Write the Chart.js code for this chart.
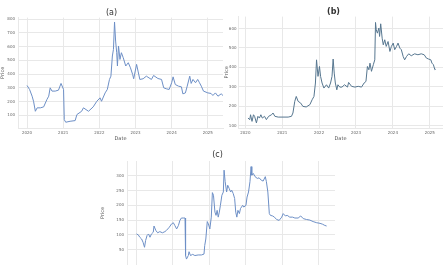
<!DOCTYPE html>
<html>
<head>
<meta charset="utf-8">
<script src="https://cdn.jsdelivr.net/npm/chart.js@4.4.1/dist/chart.umd.min.js"></script>
<style>
  html, body { margin: 0; padding: 0; background: #fff; width: 443px; height: 265px; overflow: hidden; }
  .box { position: absolute; }
</style>
</head>
<body>
<div class="box" style="left:0px;top:0px;width:228px;height:142px"><canvas id="chartA"></canvas></div>
<div class="box" style="left:224px;top:0px;width:219px;height:142px"><canvas id="chartB"></canvas></div>
<div class="box" style="left:100px;top:145px;width:237px;height:131px"><canvas id="chartC"></canvas></div>
<script>
const yearTicks = [2020, 2021, 2022, 2023, 2024, 2025];

const aPriceTicks = [100, 200, 300, 400, 500, 600, 700, 800];
const aYears = [2020.00, 2020.07, 2020.14, 2020.18, 2020.23, 2020.28, 2020.37, 2020.46, 2020.55, 2020.60,
  2020.64, 2020.69, 2020.78, 2020.87, 2020.94, 2021.01, 2021.03, 2021.07, 2021.19, 2021.33,
  2021.38, 2021.51, 2021.56, 2021.70, 2021.83, 2021.93, 2022.02, 2022.06, 2022.16, 2022.22,
  2022.28, 2022.32, 2022.36, 2022.39, 2022.42, 2022.45, 2022.48, 2022.50, 2022.53, 2022.57,
  2022.61, 2022.66, 2022.73, 2022.80, 2022.86, 2022.92, 2022.95, 2023.03, 2023.07, 2023.12,
  2023.21, 2023.30, 2023.44, 2023.50, 2023.62, 2023.72, 2023.78, 2023.85, 2023.93, 2024.00,
  2024.04, 2024.10, 2024.19, 2024.27, 2024.31, 2024.38, 2024.43, 2024.50, 2024.54, 2024.59,
  2024.66, 2024.72, 2024.77, 2024.82, 2024.88, 2025.00, 2025.09, 2025.14, 2025.21, 2025.28,
  2025.37, 2025.46];
const aPrices = [317, 288, 239, 202, 129, 154, 154, 161, 215, 239,
  300, 276, 276, 283, 332, 288, 68, 49, 56, 61,
  105, 129, 154, 129, 161, 202, 227, 202, 263, 288,
  361, 385, 532, 580, 780, 641, 556, 459, 605, 507,
  556, 520, 459, 483, 446, 398, 366, 471, 422, 361,
  366, 385, 361, 390, 368, 361, 300, 293, 288, 337,
  380, 324, 312, 307, 256, 263, 312, 385, 332, 361,
  337, 361, 337, 312, 276, 263, 259, 244, 263, 239,
  256, 234];

const bPriceTicks = [100, 200, 300, 400, 500, 600];
const bYears = [2020.07, 2020.12, 2020.14, 2020.18, 2020.22, 2020.25, 2020.30, 2020.34, 2020.38, 2020.42,
  2020.46, 2020.52, 2020.57, 2020.63, 2020.71, 2020.75, 2020.80, 2020.89, 2021.02, 2021.16,
  2021.25, 2021.29, 2021.34, 2021.38, 2021.43, 2021.50, 2021.56, 2021.65, 2021.75, 2021.81,
  2021.86, 2021.90, 2021.93, 2021.97, 2022.01, 2022.04, 2022.08, 2022.13, 2022.20, 2022.26,
  2022.31, 2022.35, 2022.38, 2022.41, 2022.44, 2022.48, 2022.51, 2022.56, 2022.62, 2022.69,
  2022.77, 2022.80, 2022.88, 2022.97, 2023.06, 2023.15, 2023.22, 2023.27, 2023.31, 2023.35,
  2023.38, 2023.42, 2023.47, 2023.51, 2023.53, 2023.55, 2023.58, 2023.62, 2023.64, 2023.67,
  2023.71, 2023.74, 2023.78, 2023.82, 2023.87, 2023.92, 2023.96, 2024.01, 2024.05, 2024.10,
  2024.14, 2024.19, 2024.23, 2024.28, 2024.32, 2024.37, 2024.43, 2024.50, 2024.59, 2024.68,
  2024.77, 2024.85, 2024.91, 2024.97, 2025.03, 2025.06, 2025.10, 2025.14, 2025.16];
const bPrices = [140, 132, 157, 123, 157, 149, 115, 149, 140, 157,
  140, 149, 132, 149, 157, 166, 149, 145, 145, 145,
  149, 166, 226, 251, 226, 217, 200, 197, 209, 234,
  251, 320, 439, 354, 405, 354, 320, 294, 311, 294,
  320, 354, 443, 371, 320, 285, 311, 299, 299, 311,
  299, 323, 303, 299, 303, 299, 320, 328, 405, 388,
  422, 380, 414, 439, 631, 593, 576, 602, 559, 624,
  550, 516, 542, 508, 533, 482, 508, 525, 491, 508,
  525, 499, 491, 456, 439, 456, 470, 460, 470, 465,
  470, 465, 448, 443, 439, 422, 414, 388, 391];

const cPriceTicks = [50, 100, 150, 200, 250, 300];
const cYears = [2020.00, 2020.05, 2020.09, 2020.14, 2020.18, 2020.22, 2020.25, 2020.29, 2020.33, 2020.37,
  2020.41, 2020.46, 2020.48, 2020.53, 2020.58, 2020.64, 2020.71, 2020.78, 2020.82, 2020.90,
  2020.96, 2021.01, 2021.05, 2021.10, 2021.15, 2021.19, 2021.23, 2021.28, 2021.33, 2021.34,
  2021.35, 2021.37, 2021.42, 2021.44, 2021.48, 2021.54, 2021.60, 2021.69, 2021.78, 2021.85,
  2021.87, 2021.90, 2021.94, 2021.97, 2022.01, 2022.05, 2022.08, 2022.11, 2022.15, 2022.18,
  2022.21, 2022.24, 2022.27, 2022.30, 2022.34, 2022.38, 2022.40, 2022.43, 2022.47, 2022.50,
  2022.54, 2022.58, 2022.61, 2022.65, 2022.69, 2022.72, 2022.75, 2022.78, 2022.82, 2022.85,
  2022.91, 2022.94, 2023.00, 2023.03, 2023.07, 2023.11, 2023.14, 2023.16, 2023.20, 2023.25,
  2023.31, 2023.36, 2023.42, 2023.47, 2023.53, 2023.56, 2023.60, 2023.64, 2023.67, 2023.73,
  2023.78, 2023.84, 2023.91, 2023.98, 2024.02, 2024.08, 2024.13, 2024.20, 2024.28, 2024.34,
  2024.43, 2024.50, 2024.57, 2024.66, 2024.75, 2024.84, 2024.94, 2025.03, 2025.10, 2025.16,
  2025.21];
const cPrices = [103, 100, 92, 86, 75, 58, 81, 98, 103, 92,
  103, 109, 130, 115, 107, 111, 107, 111, 115, 126,
  137, 141, 132, 120, 132, 149, 157, 157, 157, 109,
  30, 18, 30, 43, 30, 34, 30, 32, 32, 35,
  64, 86, 145, 137, 120, 160, 243, 234, 177, 166,
  183, 160, 177, 200, 234, 245, 319, 280, 245, 268,
  257, 245, 251, 240, 223, 177, 160, 183, 172, 189,
  200, 194, 200, 228, 245, 280, 331, 302, 308, 297,
  291, 293, 285, 282, 297, 280, 245, 172, 166, 164,
  160, 152, 149, 160, 172, 164, 166, 160, 160, 157,
  157, 164, 155, 152, 150, 145, 141, 139, 136, 132,
  130];

function toPoints(xs, ys) {
  return xs.map((x, i) => ({ x: x, y: ys[i] }));
}

function makeChart(id, cfg) {
  const ctx = document.getElementById(id).getContext('2d');
  const gridColor = '#e8e8e8';
  return new Chart(ctx, {
    type: 'line',
    data: {
      datasets: [{
        data: toPoints(cfg.xs, cfg.ys),
        borderColor: cfg.color,
        borderWidth: 1,
        pointRadius: 0,
        tension: 0,
        fill: false
      }]
    },
    options: {
      responsive: true,
      maintainAspectRatio: false,
      animation: false,
      layout: { padding: { top: 0, right: cfg.padRight, bottom: 0, left: 0 } },
      plugins: {
        legend: { display: false },
        tooltip: { enabled: false },
        title: {
          display: true,
          text: cfg.title,
          color: '#333',
          font: { family: 'DejaVu Sans', size: 8, weight: cfg.bold ? 'bold' : 'normal' },
          padding: { top: cfg.titleTop, bottom: cfg.titleBottom }
        }
      },
      scales: {
        x: {
          type: 'linear',
          min: cfg.xMin,
          max: cfg.xMax,
          afterBuildTicks: (scale) => { scale.ticks = yearTicks.map(v => ({ value: v })); },
          afterFit: (scale) => { scale.height = cfg.xHeight; },
          grid: { color: gridColor, drawTicks: false },
          border: { color: gridColor },
          ticks: {
            color: '#666',
            font: { family: 'DejaVu Sans', size: 4 },
            padding: 3,
            maxRotation: 0,
            callback: (v) => String(v)
          },
          title: {
            display: true,
            text: 'Date',
            color: '#555',
            font: { family: 'DejaVu Sans', size: 5 },
            padding: 0
          }
        },
        y: {
          min: cfg.yMin,
          max: cfg.yMax,
          afterBuildTicks: (scale) => { scale.ticks = cfg.yTicks.map(v => ({ value: v })); },
          afterFit: (scale) => { scale.width = cfg.yWidth; },
          grid: { color: gridColor, drawTicks: false },
          border: { color: gridColor },
          ticks: {
            color: '#666',
            font: { family: 'DejaVu Sans', size: 4 },
            padding: cfg.yPad
          },
          title: {
            display: true,
            text: 'Price',
            color: '#555',
            font: { family: 'DejaVu Sans', size: 5 },
            padding: 0
          }
        }
      }
    }
  });
}

makeChart('chartA', {
  xs: aYears, ys: aPrices, color: '#6d8fc6', title: '(a)', bold: false,
  xMin: 2019.75, xMax: 2025.42, yMin: 7, yMax: 812, yTicks: aPriceTicks,
  yWidth: 18, yPad: 3, xHeight: 14, padRight: 5, titleTop: 8, titleBottom: 0
});

makeChart('chartB', {
  xs: bYears, ys: bPrices, color: '#56768f', title: '(b)', bold: true,
  xMin: 2019.80, xMax: 2025.36, yMin: 89, yMax: 661, yTicks: bPriceTicks,
  yWidth: 14, yPad: 1.5, xHeight: 14, padRight: 0, titleTop: 7, titleBottom: 0
});

makeChart('chartC', {
  xs: cYears, ys: cPrices, color: '#6d8fc6', title: '(c)', bold: false,
  xMin: 2019.74, xMax: 2025.44, yMin: -2, yMax: 350, yTicks: cPriceTicks,
  yWidth: 27, yPad: 3, xHeight: 11, padRight: 2, titleTop: 5, titleBottom: 1.4
});
</script>
</body>
</html>
